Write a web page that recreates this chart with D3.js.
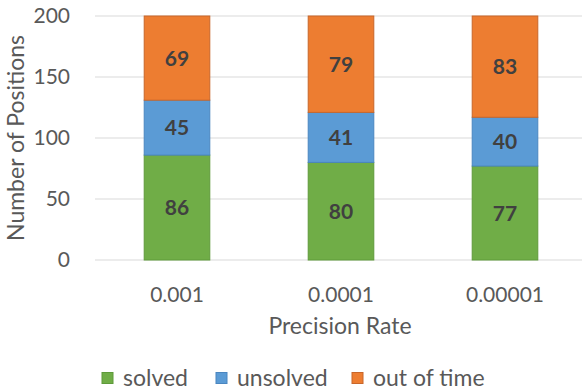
<!DOCTYPE html>
<html>
<head>
<meta charset="utf-8">
<script src="https://cdn.jsdelivr.net/npm/d3@7"></script>
<style>
  html, body { margin: 0; padding: 0; background: #fff; }
  svg { display: block; font-family: Lato, "Open Sans", sans-serif; }
</style>
</head>
<body>
<svg id="chart" width="582" height="391"></svg>
<script>
// Precision rates on the x axis
const categories = ["0.001", "0.0001", "0.00001"];
// Stacked series, bottom to top
const seriesNames = ["solved", "unsolved", "out of time"];
const solved = [86, 80, 77];
const unsolved = [45, 41, 40];
const outOfTime = [69, 79, 83];
const colors = ["#70AD47", "#5B9BD5", "#ED7D31"];
const strokes = ["#5E9A3A", "#4A86C0", "#C8662A"];
const yTicks = [0, 50, 100, 150, 200];

const rows = categories.map((c, i) => ({
  cat: c, "solved": solved[i], "unsolved": unsolved[i], "out of time": outOfTime[i]
}));

const svg = d3.select("#chart");
const margin = { left: 95, right: -5, top: 16, bottom: 131 };
const W = 582, H = 391;
const numSize = "21px", textSize = "23px";

const x = d3.scaleBand()
  .domain(categories)
  .range([margin.left, W - margin.right])
  .paddingInner(0.6)
  .paddingOuter(0.3);

const y = d3.scaleLinear().domain([0, 200]).range([H - margin.bottom, margin.top]);

// Horizontal gridlines
svg.append("g")
  .selectAll("line")
  .data(yTicks)
  .join("line")
  .attr("x1", margin.left).attr("x2", W)
  .attr("y1", d => y(d)).attr("y2", d => y(d))
  .attr("stroke", "#D9D9D9").attr("stroke-width", 1);

// Y axis tick labels
const yAxis = d3.axisLeft(y).tickValues(yTicks).tickSize(0).tickPadding(0);
const gy = svg.append("g").attr("transform", `translate(${margin.left - 25},0)`).call(yAxis);
gy.select(".domain").remove();
gy.selectAll("text").attr("fill", "#595959").style("font-size", numSize).style("font-family", "Lato, sans-serif");

// X axis tick labels
const xAxis = d3.axisBottom(x).tickSize(0).tickPadding(0);
const gx = svg.append("g").attr("transform", `translate(0,${y(0) + 27})`).call(xAxis);
gx.select(".domain").remove();
gx.selectAll("text").attr("fill", "#595959").style("font-size", numSize).style("font-family", "Lato, sans-serif");

// Stacked bars
const stack = d3.stack().keys(seriesNames);
const layers = stack(rows);

const g = svg.append("g");
layers.forEach((layer, li) => {
  g.selectAll(null)
    .data(layer)
    .join("rect")
    .attr("x", d => x(d.data.cat))
    .attr("width", x.bandwidth())
    .attr("y", d => y(d[1]))
    .attr("height", d => y(d[0]) - y(d[1]))
    .attr("fill", colors[li])
    .attr("stroke", strokes[li])
    .attr("stroke-width", 1);
});

// Value labels inside segments
layers.forEach((layer) => {
  g.selectAll(null)
    .data(layer)
    .join("text")
    .attr("x", d => x(d.data.cat) + x.bandwidth() / 2)
    .attr("y", d => y((d[0] + d[1]) / 2))
    .attr("dy", "0.36em")
    .attr("text-anchor", "middle")
    .attr("fill", "#404040")
    .style("font-size", numSize)
    .style("font-weight", "bold")
    .text(d => d[1] - d[0]);
});

// Axis titles
svg.append("text")
  .attr("x", 340).attr("y", 334)
  .attr("text-anchor", "middle")
  .attr("fill", "#595959")
  .style("font-size", textSize)
  .text("Precision Rate");

svg.append("text")
  .attr("transform", `translate(24,${(y(0) + y(200)) / 2}) rotate(-90)`)
  .attr("text-anchor", "middle")
  .attr("fill", "#595959")
  .style("font-size", textSize)
  .text("Number of Positions");

// Legend
const legendX = [102, 216, 352];
const legend = svg.append("g");
seriesNames.forEach((name, i) => {
  legend.append("rect")
    .attr("x", legendX[i]).attr("y", 372.5)
    .attr("width", 11).attr("height", 11)
    .attr("fill", colors[i]).attr("stroke", strokes[i]);
  legend.append("text")
    .attr("x", legendX[i] + 21).attr("y", 386)
    .attr("fill", "#595959")
    .style("font-size", textSize)
    .text(name);
});
</script>
</body>
</html>
